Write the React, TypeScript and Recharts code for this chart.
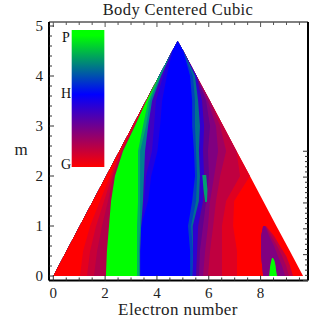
import React from "react";
import { ComposedChart, Area, XAxis, YAxis, ReferenceArea } from "recharts";

const SERIF = "'Liberation Serif', serif";

// Electron-number position of each colour boundary, one value per m level.
const mLevels = [0, 0.5, 1, 1.5, 2, 2.5, 3, 3.5, 4, 4.5, 4.7];
const leftEdge = [0, 0.51, 1.02, 1.53, 2.04, 2.55, 3.06, 3.57, 4.08, 4.59, 4.8];
const redA = [1.03, 1.15, 1.42, 1.8, 2.19, 2.58, 3.08, 3.58, 4.08, 4.59, 4.8];
const crimsonB = [1.3, 1.42, 1.65, 1.96, 2.27, 2.62, 3.1, 3.58, 4.08, 4.59, 4.8];
const crimsonC = [1.57, 1.69, 1.88, 2.11, 2.32, 2.65, 3.12, 3.58, 4.08, 4.59, 4.8];
const crimsonD = [2.03, 2.07, 2.15, 2.23, 2.38, 2.69, 3.15, 3.58, 4.08, 4.59, 4.8];
const greenE = [3.23, 3.23, 3.23, 3.27, 3.27, 3.27, 3.46, 3.66, 4.08, 4.59, 4.8];
const darkGreenF = [3.31, 3.31, 3.35, 3.35, 3.35, 3.35, 3.58, 3.73, 4.12, 4.59, 4.8];
const tealG = [3.35, 3.35, 3.39, 3.46, 3.5, 3.54, 3.66, 3.81, 4.16, 4.59, 4.8];
const indigoH = [3.35, 3.35, 3.39, 3.5, 3.58, 3.81, 3.89, 3.96, 4.24, 4.59, 4.8];
const indigoI = [3.35, 3.35, 3.39, 3.66, 3.78, 4.02, 4.12, 4.2, 4.38, 4.6, 4.8];
const blueJ = [5.28, 5.28, 5.2, 5.36, 5.47, 5.43, 5.36, 5.36, 5.28, 5.02, 4.8];
const blueK = [5.36, 5.39, 5.32, 5.51, 5.55, 5.51, 5.47, 5.47, 5.39, 5.02, 4.8];
const tealL = [5.36, 5.39, 5.38, 5.62, 5.66, 5.62, 5.66, 5.59, 5.47, 5.02, 4.8];
const indigoM = [5.51, 5.55, 5.59, 5.78, 5.82, 5.78, 5.82, 5.74, 5.53, 5.02, 4.8];
const violetN = [5.62, 5.66, 5.78, 5.9, 6.01, 5.97, 6.05, 5.9, 5.53, 5.02, 4.8];
const purpleO = [5.78, 5.86, 5.97, 6.05, 6.21, 6.36, 6.28, 5.97, 5.53, 5.02, 4.8];
const plumP = [5.97, 6.05, 6.17, 6.28, 6.44, 6.67, 6.44, 6.05, 5.53, 5.02, 4.8];
const crimsonQ = [6.51, 6.51, 6.51, 6.67, 7.21, 7.07, 6.56, 6.05, 5.53, 5.02, 4.8];
const scarletR = [7.09, 7.09, 6.94, 6.98, 7.59, 7.07, 6.56, 6.05, 5.53, 5.02, 4.8];
const rightEdge = [9.64, 9.13, 8.61, 8.1, 7.59, 7.07, 6.56, 6.05, 5.53, 5.02, 4.8];

const rows = mLevels.map((m, i) => ({
  m,
  S: [leftEdge[i], rightEdge[i]],
  R: [leftEdge[i], scarletR[i]],
  Q: [leftEdge[i], crimsonQ[i]],
  P: [leftEdge[i], plumP[i]],
  O: [leftEdge[i], purpleO[i]],
  N: [leftEdge[i], violetN[i]],
  M: [leftEdge[i], indigoM[i]],
  L: [leftEdge[i], tealL[i]],
  K: [leftEdge[i], blueK[i]],
  J: [leftEdge[i], blueJ[i]],
  I: [leftEdge[i], indigoI[i]],
  H: [leftEdge[i], indigoH[i]],
  G: [leftEdge[i], tealG[i]],
  F: [leftEdge[i], darkGreenF[i]],
  E: [leftEdge[i], greenE[i]],
  D: [leftEdge[i], crimsonD[i]],
  C: [leftEdge[i], crimsonC[i]],
  B: [leftEdge[i], crimsonB[i]],
  A: [leftEdge[i], redA[i]],
}));

// Painted in this order; each later area covers the earlier one up to its boundary.
const bandKeys = ["S", "R", "Q", "P", "O", "N", "M", "L", "K", "J", "I", "H", "G", "F", "E", "D", "C", "B", "A"];
const bandColors = ["#ff0000", "#e00020", "#c00040", "#a00060", "#800080", "#600090", "#3000d0", "#007090", "#0040c0", "#0000ff", "#2000e0", "#4000c0", "#007f90", "#00b060", "#00ff00", "#b0004a", "#c80038", "#e4001e", "#ff0000"];

// Small teal patch near n = 5.9, m = 1.7
const patchM = [1.48, 1.72, 2.02];
const patchLo = [5.86, 5.8, 5.75];
const patchHi = [5.93, 5.95, 5.9];
const patchRows = patchM.map((m, i) => ({ m, v: [patchLo[i], patchHi[i]] }));

// Purple lobe near n = 8.5
const lobeM = [0, 0.2, 0.4, 0.6, 0.8, 1];
const lobeLo = [8.1, 8.06, 8.02, 8.02, 8.02, 8.1];
const lobeOuter = [9.25, 9.14, 8.99, 8.75, 8.52, 8.21];
const lobeMiddle = [9.1, 8.99, 8.83, 8.64, 8.41, 8.19];
const lobeInner = [8.95, 8.83, 8.67, 8.52, 8.33, 8.17];
const lobeOuterRows = lobeM.map((m, i) => ({ m, v: [lobeLo[i], lobeOuter[i]] }));
const lobeMiddleRows = lobeM.map((m, i) => ({ m, v: [lobeLo[i], lobeMiddle[i]] }));
const lobeInnerRows = lobeM.map((m, i) => ({ m, v: [lobeLo[i], lobeInner[i]] }));

// Green spot inside the lobe
const spotM = [0, 0.1, 0.2, 0.3, 0.36];
const spotLo = [8.33, 8.35, 8.37, 8.41, 8.44];
const spotHi = [8.64, 8.6, 8.58, 8.54, 8.48];
const spotRows = spotM.map((m, i) => ({ m, v: [spotLo[i], spotHi[i]] }));

const xTicks = [0, 0.5, 1, 1.5, 2, 2.5, 3, 3.5, 4, 4.5, 5, 5.5, 6, 6.5, 7, 7.5, 8, 8.5, 9, 9.5];
const yTicks = [0, 0.2, 0.4, 0.6, 0.8, 1, 1.2, 1.4, 1.6, 1.8, 2, 2.2, 2.4, 2.6, 2.8, 3, 3.2, 3.4, 3.6, 3.8, 4, 4.2, 4.4, 4.6, 4.8, 5];
const xLabelled = [0, 2, 4, 6, 8];
const yLabelled = [0, 1, 2, 3, 4, 5];

const isMajor = (list: number[], v: number) => list.includes(v);

const BottomTick = ({ x, y, payload }: any) => {
  const major = isMajor(xLabelled, payload.value);
  return (
    <g>
      <line x1={x} x2={x} y1={y} y2={y - (major ? 5 : 3)} stroke="#333" />
      {major && (
        <text x={x} y={y + 17} textAnchor="middle" fontFamily={SERIF} fontSize={15} fill="#222">
          {payload.value}
        </text>
      )}
    </g>
  );
};
const TopTick = ({ x, y, payload }: any) => {
  const major = isMajor(xLabelled, payload.value);
  return <line x1={x} x2={x} y1={y} y2={y + (major ? 5 : 3)} stroke="#555" />;
};
const LeftTick = ({ x, y, payload }: any) => {
  const major = isMajor(yLabelled, payload.value);
  return (
    <g>
      <line x1={x} x2={x + (major ? 5 : 3)} y1={y} y2={y} stroke="#333" />
      {major && (
        <text x={x - 6} y={y + 5} textAnchor="end" fontFamily={SERIF} fontSize={15} fill="#222">
          {payload.value}
        </text>
      )}
    </g>
  );
};
const RightTick = ({ x, y, payload }: any) => {
  const major = isMajor(yLabelled, payload.value);
  return <line x1={x} x2={x - (major ? 5 : 3)} y1={y} y2={y} stroke="#333" />;
};

const X_DOMAIN: [number, number] = [-0.166, 9.83];
const Y_DOMAIN: [number, number] = [-0.09, 5.08];

const band = (key: string, color: string) => (
  <Area
    key={key}
    dataKey={key}
    type="linear"
    fill={color}
    fillOpacity={1}
    stroke="none"
    dot={false}
    activeDot={false}
    isAnimationActive={false}
  />
);
const overlay = (name: string, data: any[], color: string) => (
  <Area
    key={name}
    name={name}
    data={data}
    dataKey="v"
    type="linear"
    fill={color}
    fillOpacity={1}
    stroke="none"
    dot={false}
    activeDot={false}
    isAnimationActive={false}
  />
);

export default function App() {
  return (
    <div style={{ position: "absolute", left: 0, top: 0, width: 321, height: 321, background: "#fff" }}>
      <ComposedChart
        width={321}
        height={321}
        layout="vertical"
        data={rows}
        margin={{ top: 0, right: 0, bottom: 0, left: 0 }}
      >
        <defs>
          <linearGradient id="legendRamp" x1="0" y1="0" x2="0" y2="1">
            <stop offset="0.04" stopColor="#00ff00" />
            <stop offset="0.47" stopColor="#0000ff" />
            <stop offset="1" stopColor="#ff0000" />
          </linearGradient>
        </defs>
        <XAxis
          xAxisId={0}
          type="number"
          orientation="bottom"
          domain={X_DOMAIN}
          allowDataOverflow
          ticks={xTicks}
          interval={0}
          height={40.5}
          tickSize={0}
          tickMargin={0}
          tickLine={false}
          tick={<BottomTick />}
          axisLine={{ stroke: "#000", strokeWidth: 2 }}
        />
        <XAxis
          xAxisId="top"
          type="number"
          orientation="top"
          domain={X_DOMAIN}
          allowDataOverflow
          ticks={xTicks}
          interval={0}
          height={22}
          tickSize={0}
          tickMargin={0}
          tickLine={false}
          tick={<TopTick />}
          axisLine={{ stroke: "#808080", strokeWidth: 2 }}
        />
        <YAxis
          yAxisId={0}
          type="number"
          dataKey="m"
          orientation="left"
          reversed
          domain={Y_DOMAIN}
          allowDataOverflow
          ticks={yTicks}
          interval={0}
          width={49}
          tickSize={0}
          tickMargin={0}
          tickLine={false}
          tick={<LeftTick />}
          axisLine={{ stroke: "#000", strokeWidth: 2 }}
        />
        <YAxis
          yAxisId="right"
          type="number"
          orientation="right"
          reversed
          domain={Y_DOMAIN}
          allowDataOverflow
          ticks={yTicks}
          interval={0}
          width={13}
          tickSize={0}
          tickMargin={0}
          tickLine={false}
          tick={<RightTick />}
          axisLine={{ stroke: "#000", strokeWidth: 2 }}
        />
        {bandKeys.map((k, i) => band(k, bandColors[i]))}
        {overlay("patch", patchRows, "#00a070")}
        {overlay("lobeOuter", lobeOuterRows, "#c00040")}
        {overlay("lobeMiddle", lobeMiddleRows, "#a00060")}
        {overlay("lobeInner", lobeInnerRows, "#800080")}
        {overlay("spot", spotRows, "#00ff00")}
        <ReferenceArea x1={0.71} x2={1.97} y1={2.18} y2={4.92} fill="url(#legendRamp)" fillOpacity={1} stroke="none" />
        <text x={178} y={15} textAnchor="middle" fontFamily={SERIF} fontSize={16.5} letterSpacing={0.4} fill="#222">
          Body Centered Cubic
        </text>
        <text x={178} y={315} textAnchor="middle" fontFamily={SERIF} fontSize={17} letterSpacing={0.4} fill="#222">
          Electron number
        </text>
        <text x={21} y={155} textAnchor="middle" fontFamily={SERIF} fontSize={17} fill="#222">
          m
        </text>
        <text x={66} y={42} textAnchor="middle" fontFamily={SERIF} fontSize={14} fill="#111">
          P
        </text>
        <text x={66} y={98} textAnchor="middle" fontFamily={SERIF} fontSize={14} fill="#111">
          H
        </text>
        <text x={66} y={169} textAnchor="middle" fontFamily={SERIF} fontSize={14} fill="#111">
          G
        </text>
      </ComposedChart>
    </div>
  );
}
